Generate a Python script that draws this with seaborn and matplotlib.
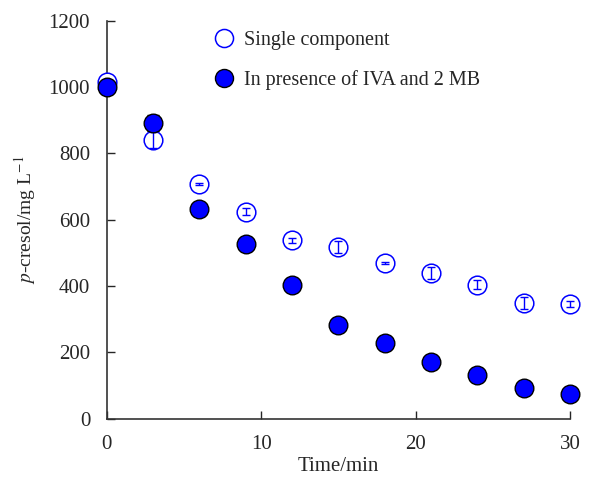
import numpy as np
import pandas as pd
import matplotlib
matplotlib.use('Agg')
import matplotlib.pyplot as plt
from matplotlib.lines import Line2D
import seaborn as sns

time_min = [0, 3, 6, 9, 12, 15, 18, 21, 24, 27, 30]
single = [1015, 840, 708, 624, 538, 518, 470, 440, 404, 348, 346]
single_err = [8, 25, 3, 10, 8, 18, 3, 18, 14, 18, 8]
mixed = [1000, 892, 632, 527, 404, 283, 228, 170, 132, 92, 74]
mixed_err = [5, 25, 5, 5, 5, 5, 5, 5, 5, 5, 5]
labels = ['Single component', 'In presence of IVA and 2 MB']

sns.set_style('ticks')
plt.rcParams['font.family'] = ['Liberation Serif', 'DejaVu Serif']
plt.rcParams['mathtext.fontset'] = 'stix'
plt.rcParams['font.size'] = 14

df = pd.DataFrame({
    'time': time_min * 2,
    'conc': single + mixed,
    'err': single_err + mixed_err,
    'series': [labels[0]] * len(time_min) + [labels[1]] * len(time_min),
})

fig = plt.figure(figsize=(6, 4.91), dpi=100)
ax = fig.add_axes([0.178, 0.147, 0.772, 0.811])

blue = '#0000ff'
d1 = df[df['series'] == labels[0]]
d2 = df[df['series'] == labels[1]]

# filled series: error bars under the markers
ax.errorbar(d2['time'], d2['conc'], yerr=d2['err'], fmt='none', ecolor='black',
            elinewidth=1, capsize=4, zorder=2, clip_on=False)
sns.scatterplot(data=d1, x='time', y='conc', ax=ax, s=180, marker='o',
                facecolor='white', edgecolor=blue, linewidth=1.1, zorder=3, clip_on=False)
ax.errorbar(d1['time'], d1['conc'], yerr=d1['err'], fmt='none', ecolor=blue,
            elinewidth=1, capsize=3, zorder=4, clip_on=False)
sns.scatterplot(data=d2, x='time', y='conc', ax=ax, s=180, marker='o',
                color=blue, edgecolor='black', linewidth=1.0, zorder=5, clip_on=False)

ax.set_xlim(0, 30)
ax.set_ylim(0, 1200)
ax.set_xticks([0, 10, 20, 30])
ax.set_yticks(range(0, 1201, 200))
ax.tick_params(direction='in', length=6, width=1, labelsize=15, pad=12)
sns.despine(ax=ax)
for s in ['left', 'bottom']:
    ax.spines[s].set_linewidth(1.2)
    ax.spines[s].set_color('#333333')

ax.set_xlabel('Time/min', fontsize=15, labelpad=2)
ax.set_ylabel(r'$\it{p}$-cresol/mg L$^{-1}$', fontsize=14, labelpad=8)

handles = [
    Line2D([], [], marker='o', linestyle='none', markersize=13,
           markerfacecolor='white', markeredgecolor=blue, markeredgewidth=1.1),
    Line2D([], [], marker='o', linestyle='none', markersize=13,
           markerfacecolor=blue, markeredgecolor='black', markeredgewidth=1.0),
]
ax.legend(handles, labels, loc='upper left', bbox_to_anchor=(0.17, 1.02),
          frameon=False, fontsize=14.5, handletextpad=0.0, labelspacing=1.0)

fig.savefig('out.png', dpi=100)
